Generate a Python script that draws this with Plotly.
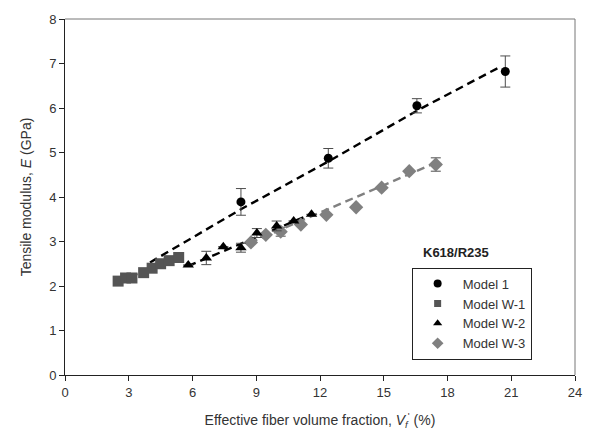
import plotly.graph_objects as go

# ---- data ----
m1_x = [8.28, 12.39, 16.56, 20.72]
m1_y = [3.89, 4.87, 6.05, 6.82]
m1_err = [0.30, 0.22, 0.16, 0.35]

w1_x = [2.5, 2.85, 3.15, 3.7, 4.1, 4.5, 4.9, 5.35]
w1_y = [2.11, 2.18, 2.18, 2.30, 2.40, 2.50, 2.57, 2.64]

w2_x = [5.8, 6.65, 7.45, 8.28, 9.03, 9.96, 10.76, 11.6]
w2_y = [2.47, 2.63, 2.88, 2.86, 3.19, 3.35, 3.46, 3.61]
w2_err = [0.0, 0.15, 0.0, 0.10, 0.10, 0.11, 0.0, 0.0]

w3_x = [8.75, 9.45, 10.15, 11.1, 12.3, 13.7, 14.9, 16.2, 17.45]
w3_y = [2.98, 3.15, 3.22, 3.38, 3.60, 3.77, 4.21, 4.58, 4.73]
w3_err = [0.0, 0.0, 0.10, 0.0, 0.0, 0.0, 0.0, 0.0, 0.15]

# model prediction curves (dashed)
m1_line_x = [4.0, 8.3, 12.4, 16.6, 20.5]
m1_line_y = [2.53, 3.73, 4.80, 5.95, 6.93]
w1_line_x = [2.5, 5.35]
w1_line_y = [2.10, 2.63]
w2_line_x = [5.8, 11.6]
w2_line_y = [2.45, 3.62]
w3_line_x = [8.7, 17.4]
w3_line_y = [2.97, 4.76]

x_ticks = [0, 3, 6, 9, 12, 15, 18, 21, 24]
y_ticks = [0, 1, 2, 3, 4, 5, 6, 7, 8]

names = ["Model 1", "Model W-1", "Model W-2", "Model W-3"]

BLACK = "#000000"
DGRAY = "#555555"
LGRAY = "#808080"
ERRC = "#4d4d4d"

fig = go.Figure()

# dashed lines
for lx, ly, col in [(w1_line_x, w1_line_y, LGRAY), (w3_line_x, w3_line_y, LGRAY),
                    (w2_line_x, w2_line_y, BLACK), (m1_line_x, m1_line_y, BLACK)]:
    fig.add_trace(go.Scatter(x=lx, y=ly, mode="lines", showlegend=False,
                             line=dict(color=col, width=2.4, dash="8px,5px"),
                             hoverinfo="skip"))

def err(arr):
    return dict(type="data", array=arr, visible=True, color=ERRC, thickness=1, width=5)

fig.add_trace(go.Scatter(x=w1_x, y=w1_y, mode="markers", name=names[1], showlegend=False,
                         marker=dict(symbol="square", size=11, color=DGRAY)))
fig.add_trace(go.Scatter(x=w3_x, y=w3_y, mode="markers", name=names[3], showlegend=False,
                         error_y=err(w3_err),
                         marker=dict(symbol="diamond", size=11, color=LGRAY)))
fig.add_trace(go.Scatter(x=w2_x, y=w2_y, mode="markers", name=names[2], showlegend=False,
                         error_y=err(w2_err),
                         marker=dict(symbol="triangle-up", size=10, color=BLACK)))
fig.add_trace(go.Scatter(x=m1_x, y=m1_y, mode="markers", name=names[0], showlegend=False,
                         error_y=err(m1_err),
                         marker=dict(symbol="circle", size=9, color=BLACK)))

# legend entries (smaller markers, as in the reference legend)
leg_specs = [("circle", BLACK, 8), ("square", DGRAY, 7),
             ("triangle-up", BLACK, 8), ("diamond", LGRAY, 9)]
for nm, (sym, col, sz) in zip(names, leg_specs):
    fig.add_trace(go.Scatter(x=[None], y=[None], mode="markers", name=nm,
                             marker=dict(symbol=sym, size=sz, color=col)))

axis_common = dict(showgrid=False, zeroline=False, showline=True, linecolor="#222222",
                   linewidth=1, ticks="outside", ticklen=5, tickcolor="#222222",
                   tickfont=dict(family="Liberation Sans, Arial", size=13, color="#333333"))

fig.update_layout(
    width=594, height=439,
    margin=dict(l=65, r=17, t=17, b=64),
    paper_bgcolor="white", plot_bgcolor="white",
    font=dict(family="Liberation Sans, Arial", color="#333333"),
    xaxis=dict(range=[0, 24], tickvals=x_ticks, **axis_common,
               title=dict(text="Effective fiber volume fraction, <i>V</i><sub><i>f</i></sub><sup>'</sup> (%)",
                          font=dict(size=14, color="#333333"), standoff=16)),
    yaxis=dict(range=[0, 8], tickvals=y_ticks, **axis_common,
               title=dict(text="Tensile modulus, <i>E</i> (GPa)",
                          font=dict(size=14, color="#333333"), standoff=14)),
    legend=dict(x=(413 - 65) / 512, y=(375 - 267) / 358, xanchor="left", yanchor="top",
                traceorder="normal", bordercolor="#222222", borderwidth=1,
                bgcolor="white", font=dict(size=13, color="#333333"),
                itemwidth=40),
    showlegend=True,
)

# top/right frame in gray
fig.add_shape(type="line", xref="paper", yref="paper", x0=0, y0=1, x1=1, y1=1,
              line=dict(color="#777777", width=1))
fig.add_shape(type="line", xref="paper", yref="paper", x0=1, y0=0, x1=1, y1=1,
              line=dict(color="#777777", width=1))

fig.add_annotation(text="<b>K618/R235</b>", xref="paper", yref="paper",
                   x=(493 - 65) / 512, y=(375 - 252) / 358, showarrow=False,
                   font=dict(size=13, color="#222222"))

fig.write_html("out.html")
